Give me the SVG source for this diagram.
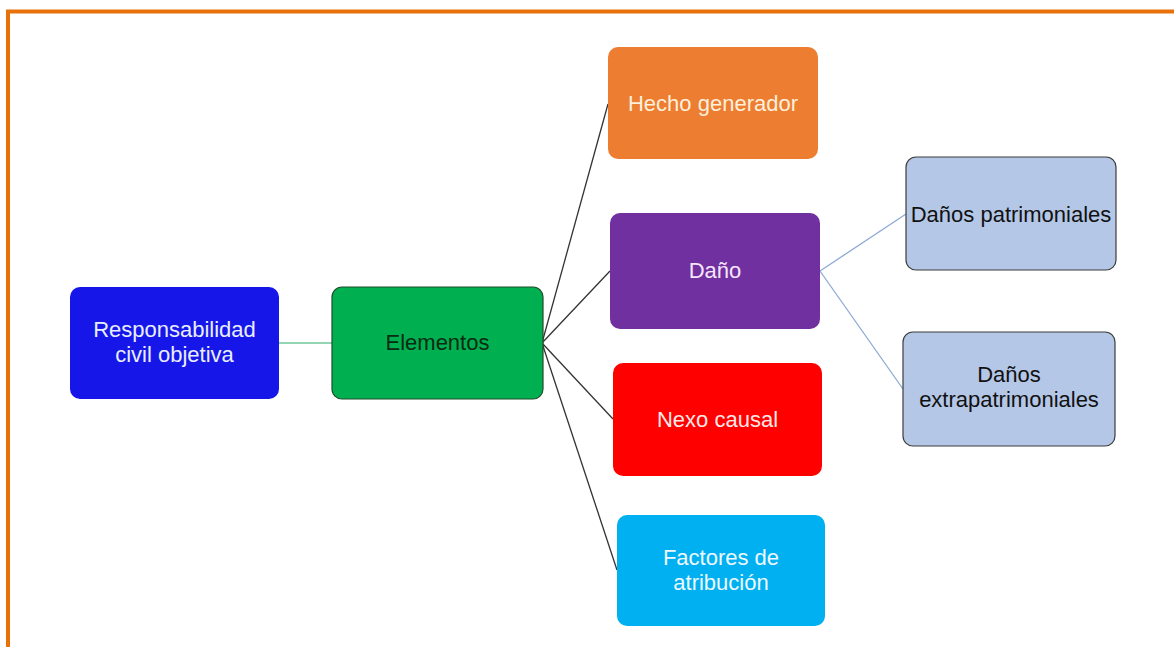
<svg xmlns="http://www.w3.org/2000/svg" width="1174" height="647" viewBox="0 0 1174 647">
<style>
.t{font-family:"Liberation Sans",Arial,sans-serif;font-size:22px;text-anchor:middle}
</style>
<rect x="0" y="0" width="1174" height="647" fill="#ffffff"/>
<path d="M8 647 V11.5 H1174" fill="none" stroke="#E8710A" stroke-width="4"/>
<g id="connectors" fill="none">
<line x1="279" y1="343" x2="332" y2="343" stroke="#6cc79a" stroke-width="1.5"/>
<g stroke="#333333" stroke-width="1.3">
<line x1="542" y1="343" x2="608" y2="104"/>
<line x1="542" y1="343" x2="610" y2="271"/>
<line x1="542" y1="343" x2="613" y2="419"/>
<line x1="542" y1="343" x2="617" y2="570"/>
</g>
<g stroke="#8EA9D6" stroke-width="1.3">
<line x1="820" y1="271" x2="906" y2="214"/>
<line x1="820" y1="271" x2="903" y2="389"/>
</g>
</g>
<g id="n-resp">
<rect x="70" y="287" width="209" height="112" rx="10" fill="#1616E9"/>
<text class="t" x="174.5" y="337" fill="#e8eeff">Responsabilidad</text>
<text class="t" x="174.5" y="362" fill="#e8eeff">civil objetiva</text>
</g>
<g id="n-elem">
<rect x="332" y="287" width="211" height="112" rx="10" fill="#00B050" stroke="#1e4d2b" stroke-width="1.2"/>
<text class="t" x="437.5" y="350" fill="#0b2a12">Elementos</text>
</g>
<g id="n-hecho">
<rect x="608" y="47" width="210" height="112" rx="10" fill="#ED7D31"/>
<text class="t" x="713" y="111" fill="#fdf0dc">Hecho generador</text>
</g>
<g id="n-dano">
<rect x="610" y="213" width="210" height="116" rx="10" fill="#7030A0"/>
<text class="t" x="715" y="278" fill="#f6e6fa">Daño</text>
</g>
<g id="n-nexo">
<rect x="613" y="363" width="209" height="113" rx="10" fill="#FF0000"/>
<text class="t" x="717.5" y="427" fill="#fde8e8">Nexo causal</text>
</g>
<g id="n-fact">
<rect x="617" y="515" width="208" height="111" rx="10" fill="#00B0F0"/>
<text class="t" x="721" y="565" fill="#eef8ff">Factores de</text>
<text class="t" x="721" y="590" fill="#eef8ff">atribución</text>
</g>
<g id="n-pat">
<rect x="906" y="157" width="210" height="113" rx="10" fill="#B4C7E7" stroke="#3d3d3d" stroke-width="1.2"/>
<text class="t" x="1011" y="222" fill="#111111">Daños patrimoniales</text>
</g>
<g id="n-extra">
<rect x="903" y="332" width="212" height="114" rx="10" fill="#B4C7E7" stroke="#3d3d3d" stroke-width="1.2"/>
<text class="t" x="1009" y="382" fill="#111111">Daños</text>
<text class="t" x="1009" y="407" fill="#111111">extrapatrimoniales</text>
</g>
</svg>
